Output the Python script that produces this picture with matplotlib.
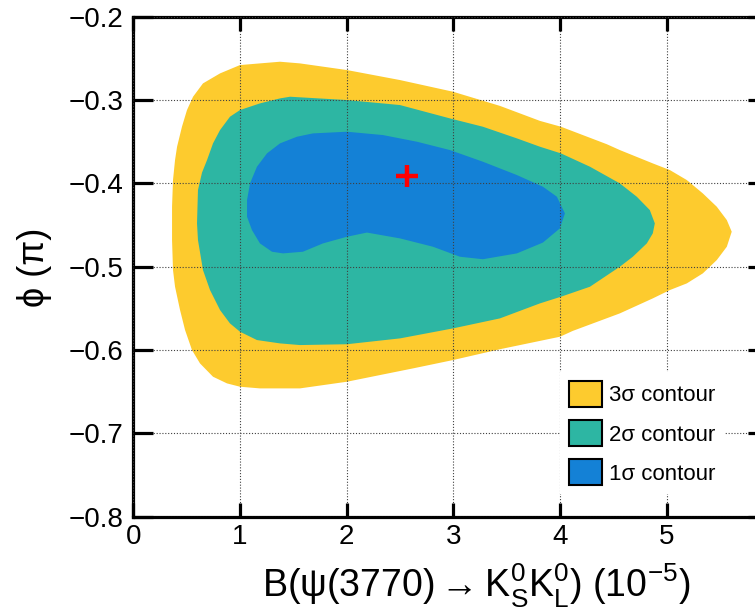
import matplotlib
matplotlib.use("Agg")
import matplotlib.pyplot as plt
from matplotlib.patches import Patch

plt.rcParams['font.family'] = ['Liberation Sans', 'DejaVu Sans']
plt.rcParams['mathtext.fontset'] = 'custom'
plt.rcParams['mathtext.rm'] = 'Liberation Sans'
plt.rcParams['mathtext.it'] = 'Liberation Sans:italic'
plt.rcParams['mathtext.default'] = 'regular'

# contour boundaries: branching fraction (1e-5) vs phase (pi)
sigma3_x = [0.391, 0.410, 0.456, 0.503, 0.560, 0.653, 0.813, 1.000, 1.187, 1.375,
            1.562, 2.003, 2.500, 2.997, 3.437, 3.812, 4.009, 4.439, 4.561, 4.870,
            5.030, 5.189, 5.339, 5.470, 5.564, 5.610, 5.564, 5.470, 5.339, 5.189,
            5.030, 4.870, 4.561, 4.120, 4.000, 3.437, 2.997, 2.622, 2.312, 2.003,
            1.562, 1.375, 1.187, 1.000, 0.878, 0.747, 0.625, 0.550, 0.485, 0.438,
            0.391, 0.372, 0.363, 0.363, 0.372]
sigma3_y = [-0.372, -0.356, -0.332, -0.312, -0.296, -0.280, -0.268, -0.258, -0.256, -0.254,
            -0.256, -0.264, -0.276, -0.290, -0.307, -0.325, -0.332, -0.353, -0.360, -0.376,
            -0.384, -0.396, -0.412, -0.428, -0.444, -0.458, -0.476, -0.492, -0.508, -0.520,
            -0.528, -0.538, -0.556, -0.577, -0.584, -0.599, -0.612, -0.622, -0.630, -0.638,
            -0.646, -0.646, -0.646, -0.644, -0.640, -0.632, -0.616, -0.600, -0.576, -0.552,
            -0.524, -0.504, -0.468, -0.428, -0.396]

sigma2_x = [0.691, 0.747, 0.813, 0.906, 1.000, 1.187, 1.375, 1.469, 2.003, 2.500,
            2.968, 3.277, 3.596, 3.812, 4.009, 4.281, 4.561, 4.720, 4.842, 4.889,
            4.870, 4.814, 4.683, 4.561, 4.281, 4.009, 3.812, 3.437, 2.997, 2.500,
            2.003, 1.562, 1.375, 1.159, 1.000, 0.906, 0.813, 0.719, 0.653, 0.606,
            0.597, 0.606, 0.644]
sigma2_y = [-0.372, -0.352, -0.336, -0.320, -0.312, -0.304, -0.298, -0.296, -0.300, -0.306,
            -0.322, -0.332, -0.346, -0.356, -0.364, -0.380, -0.400, -0.416, -0.432, -0.448,
            -0.460, -0.472, -0.488, -0.500, -0.524, -0.536, -0.544, -0.562, -0.574, -0.586,
            -0.593, -0.594, -0.592, -0.588, -0.578, -0.568, -0.552, -0.528, -0.504, -0.468,
            -0.448, -0.408, -0.387]

sigma1_x = [1.066, 1.094, 1.159, 1.253, 1.375, 1.534, 1.684, 2.003, 2.340, 2.659,
            2.968, 3.277, 3.596, 3.840, 3.971, 4.046, 3.999, 3.840, 3.596, 3.277,
            3.062, 2.809, 2.500, 2.190, 2.003, 1.778, 1.590, 1.403, 1.300, 1.187,
            1.112, 1.066]
sigma1_y = [-0.420, -0.400, -0.380, -0.364, -0.352, -0.344, -0.340, -0.338, -0.342, -0.350,
            -0.360, -0.374, -0.390, -0.404, -0.416, -0.436, -0.454, -0.471, -0.484, -0.491,
            -0.488, -0.476, -0.466, -0.459, -0.464, -0.472, -0.482, -0.484, -0.482, -0.472,
            -0.456, -0.440]

best_x = 2.565
best_y = -0.391

labels = ['3σ contour', '2σ contour', '1σ contour']
colors = ['#FDCB2E', '#2DB6A3', '#1481D6']

fig = plt.figure(figsize=(7.55, 6.15), dpi=100)
ax = fig.add_axes([0.1766, 0.1598, 0.8406, 0.8130])

ax.fill(sigma3_x, sigma3_y, color=colors[0], lw=0, zorder=1)
ax.fill(sigma2_x, sigma2_y, color=colors[1], lw=0, zorder=1.1)
ax.fill(sigma1_x, sigma1_y, color=colors[2], lw=0, zorder=1.2)
ax.plot(best_x, best_y, marker='+', color='#FF0000', markersize=16, mew=3.2, zorder=4)

ax.set_xlim(0, 5.95)
ax.set_ylim(-0.8, -0.2)
ax.set_xticks([0, 1, 2, 3, 4, 5])
ax.set_yticks([-0.8, -0.7, -0.6, -0.5, -0.4, -0.3, -0.2])
ax.set_yticklabels(['\u22120.8', '\u22120.7', '\u22120.6', '\u22120.5', '\u22120.4', '\u22120.3', '\u22120.2'])

ax.set_axisbelow(False)
ax.grid(True, color='0.25', linestyle=(0, (1, 1.6)), linewidth=0.8)

for s in ax.spines.values():
    s.set_linewidth(2.3)
ax.tick_params(axis='both', direction='in', top=True, right=True, width=2.3, labelsize=20)
ax.tick_params(axis='y', length=14.5, pad=7)
ax.tick_params(axis='x', length=10, pad=5)

fig.text(476 / 755, 1 - 597 / 615, r'B(ψ(3770)$\rightarrow$K$_S^0$K$_L^0$) (10$^{-5}$)',
         fontsize=27, ha='center', va='baseline')
fig.text(35 / 755, 1 - 267 / 615, 'ϕ (π)', fontsize=26, ha='center', va='center', rotation=90)

handles = [Patch(facecolor=c, edgecolor='black', linewidth=1.5, joinstyle='round') for c in colors]
leg = ax.legend(handles, labels, loc='upper left', bbox_to_anchor=(560 / 755, 1 - 372 / 615),
                bbox_transform=fig.transFigure, fontsize=16, frameon=True, fancybox=False,
                facecolor='white', edgecolor='none', framealpha=1, borderaxespad=0,
                borderpad=0.4, handlelength=1.49, handleheight=1.44, handletextpad=0.32,
                labelspacing=0.58)
leg.set_zorder(5)

fig.savefig('out.png', dpi=100)
